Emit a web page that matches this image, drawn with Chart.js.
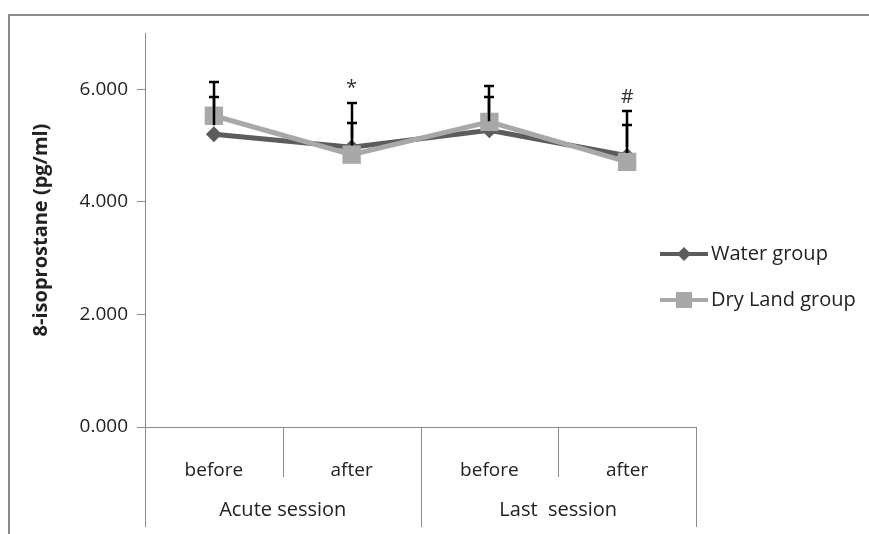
<!DOCTYPE html>
<html>
<head>
<meta charset="utf-8">
<script src="https://cdn.jsdelivr.net/npm/chart.js@4.4.1/dist/chart.umd.min.js"></script>
<style>
  html, body { margin: 0; padding: 0; background: #fff; }
  #wrap { width: 869px; height: 534px; }
</style>
</head>
<body>
<div id="wrap"><canvas id="isoChart" width="869" height="534"></canvas></div>
<script>
// data
var categories = ["before", "after", "before", "after"];
var groups = ["Acute session", "Last  session"];
var waterValues = [5.20, 4.97, 5.27, 4.82];
var dryValues = [5.53, 4.84, 5.42, 4.71];
// upper error bar (SD) lengths
var waterErr = [0.66, 0.43, 0.59, 0.55];
var dryErr = [0.60, 0.92, 0.64, 0.90];
// significance marks above each time point
var marks = ["", "*", "", "#"];
var yTicks = [0, 2, 4, 6];

var FONT = "'Open Sans'";
var AXIS = '#8a8a8a';
var TEXT = '#222';

var frameAndGroups = {
    id: 'frameAndGroups',
    beforeDraw: function(chart) {
        var c = chart.ctx;
        c.save();
        c.strokeStyle = '#8c8c8c';
        c.lineWidth = 2;
        c.strokeRect(9, 15, 900, 600);
        c.restore();
    },
    afterDraw: function(chart) {
        var c = chart.ctx, xs = chart.scales.x;
        var half = (xs.getPixelForValue(1) - xs.getPixelForValue(0)) / 2;
        var y0 = chart.chartArea.bottom;
        c.save();
        c.strokeStyle = AXIS;
        c.lineWidth = 1;
        for (var i = 0; i <= categories.length; i++) {
            var bx = Math.round(xs.getPixelForValue(0) - half + i * 2 * half) + 0.5;
            var len = (i % 2 === 0) ? 100 : 50;
            c.beginPath();
            c.moveTo(bx, y0);
            c.lineTo(bx, y0 + len);
            c.stroke();
        }
        c.fillStyle = TEXT;
        c.font = '20px ' + FONT;
        c.textAlign = 'center';
        c.textBaseline = 'middle';
        for (var g = 0; g < groups.length; g++) {
            var gx = (xs.getPixelForValue(g * 2) + xs.getPixelForValue(g * 2 + 1)) / 2;
            c.fillText(groups[g], gx, y0 + 83);
        }

        // legend
        var items = [
            {label: 'Water group', color: '#5c5c5c', shape: 'diamond', y: 254},
            {label: 'Dry Land group', color: '#a8a8a8', shape: 'square', y: 300}
        ];
        items.forEach(function(it) {
            c.strokeStyle = it.color;
            c.fillStyle = it.color;
            c.lineWidth = 4;
            c.beginPath();
            c.moveTo(660, it.y);
            c.lineTo(708, it.y);
            c.stroke();
            c.beginPath();
            if (it.shape === 'diamond') {
                c.moveTo(684, it.y - 7);
                c.lineTo(691, it.y);
                c.lineTo(684, it.y + 7);
                c.lineTo(677, it.y);
            } else {
                c.rect(676, it.y - 8, 16, 16);
            }
            c.closePath();
            c.fill();
            c.fillStyle = TEXT;
            c.font = '20px ' + FONT;
            c.textAlign = 'left';
            c.textBaseline = 'middle';
            c.fillText(it.label, 711, it.y);
        });
        c.restore();
    }
};

var errorBars = {
    id: 'errorBars',
    afterDatasetsDraw: function(chart) {
        var c = chart.ctx, xs = chart.scales.x, ys = chart.scales.y;
        var sets = [[waterValues, waterErr], [dryValues, dryErr]];
        c.save();
        c.strokeStyle = '#000';
        c.lineWidth = 2.5;
        sets.forEach(function(s) {
            for (var i = 0; i < s[0].length; i++) {
                var x = Math.round(xs.getPixelForValue(i));
                var yv = ys.getPixelForValue(s[0][i]);
                var yt = Math.round(ys.getPixelForValue(s[0][i] + s[1][i]));
                c.beginPath();
                c.moveTo(x, yv - 9);
                c.lineTo(x, yt);
                c.moveTo(x - 5, yt);
                c.lineTo(x + 5, yt);
                c.stroke();
            }
        });
        c.fillStyle = '#333';
        c.font = '20px ' + FONT;
        c.textAlign = 'center';
        c.textBaseline = 'middle';
        for (var i = 0; i < marks.length; i++) {
            if (!marks[i]) continue;
            var top = Math.max(waterValues[i] + waterErr[i], dryValues[i] + dryErr[i]);
            c.fillText(marks[i], xs.getPixelForValue(i), ys.getPixelForValue(top) - 14);
        }
        c.restore();
    }
};

var ctx = document.getElementById("isoChart").getContext("2d");

var myChart = new Chart(ctx, {
    type: 'line',
    data: {
        labels: categories,
        datasets: [
            {
                label: 'Water group',
                data: waterValues,
                borderColor: '#5c5c5c',
                backgroundColor: '#5c5c5c',
                borderWidth: 5,
                pointStyle: 'rectRot',
                pointRadius: 8,
                pointBorderWidth: 0,
                order: 1
            },
            {
                label: 'Dry Land group',
                data: dryValues,
                borderColor: '#a8a8a8',
                backgroundColor: '#a8a8a8',
                borderWidth: 5,
                pointStyle: 'rect',
                pointRadius: 13,
                pointBorderWidth: 0,
                order: 0
            }
        ]
    },
    options: {
        responsive: false,
        animation: false,
        layout: {
            padding: {left: 0, top: 33, right: 173, bottom: 0}
        },
        scales: {
            x: {
                offset: true,
                grid: {display: false, offset: true},
                border: {color: AXIS, width: 1},
                ticks: {
                    color: TEXT,
                    font: {family: FONT, size: 19},
                    padding: 24,
                    maxRotation: 0
                },
                afterFit: function(scale) { scale.height = 107; }
            },
            y: {
                min: 0,
                max: 7,
                afterBuildTicks: function(scale) {
                    scale.ticks = yTicks.map(function(v) { return {value: v}; });
                },
                grid: {
                    drawOnChartArea: false,
                    drawTicks: true,
                    tickLength: 8,
                    color: AXIS
                },
                border: {color: AXIS, width: 1},
                ticks: {
                    color: TEXT,
                    font: {family: FONT, size: 19},
                    padding: 9,
                    callback: function(v) { return v.toFixed(3); }
                },
                title: {
                    display: true,
                    text: '8-isoprostane (pg/ml)',
                    color: TEXT,
                    font: {family: FONT, size: 20, weight: 'bold'},
                    padding: {top: 29}
                },
                afterFit: function(scale) { scale.width = 145; }
            }
        },
        plugins: {
            legend: {display: false},
            tooltip: {enabled: false}
        }
    },
    plugins: [frameAndGroups, errorBars]
});
</script>
</body>
</html>
